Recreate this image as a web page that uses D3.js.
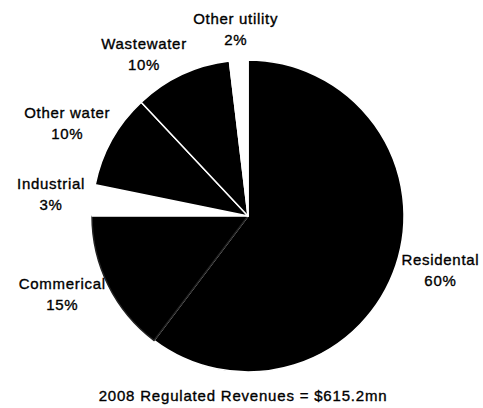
<!DOCTYPE html>
<html>
<head>
<meta charset="utf-8">
<script src="https://cdn.jsdelivr.net/npm/d3@7"></script>
<style>
  body { margin: 0; background: #fff; }
  text { font-family: "Liberation Sans", Arial, sans-serif; fill: #000; stroke: #000; stroke-width: 0.35px; }
</style>
</head>
<body>
<svg id="chart" width="483" height="408"></svg>
<script>
// shares; labels show them rounded
var categories = ["Residental", "Commerical", "Industrial", "Other water", "Wastewater", "Other utility"];
var shares = [60.3, 14.7, 3.2, 9.8, 10.1, 1.9];
var caption = "2008 Regulated Revenues = $615.2mn";

var svg = d3.select("#chart"),
    width = +svg.attr("width"),
    height = +svg.attr("height"),
    radius = 156,
    cx = 248,
    cy = 216;

var color = d3.scaleOrdinal()
    .domain(categories)
    .range(["#000", "#000", "#fff", "#000", "#000", "#fff"]);

var edge = d3.scaleOrdinal()
    .domain(categories)
    .range(["#fff", "#222", "#fff", "#fff", "#fff", "#fff"]);

var pie = d3.pie()
    .sort(null)
    .value(function(d) { return d.value; });

var arc = d3.arc()
    .innerRadius(0)
    .outerRadius(radius);

var data = categories.map(function(c, i) { return {name: c, value: shares[i]}; });
var arcs = pie(data);

var g = svg.append("g")
    .attr("transform", "translate(" + cx + "," + cy + ")");

// slices
g.selectAll(".slice")
    .data(arcs)
  .enter().append("path")
    .attr("class", "slice")
    .attr("d", arc)
    .attr("fill", function(d) { return color(d.data.name); })
    .attr("stroke", function(d) { return edge(d.data.name); })
    .attr("stroke-width", 1.5)
    .attr("stroke-linejoin", "round");

// labels
var labels = g.selectAll(".label")
    .data(arcs)
  .enter().append("text")
    .attr("class", "label")
    .attr("text-anchor", "middle")
    .style("font-size", "15px")
    .style("letter-spacing", "0.7px");

labels.append("tspan")
    .attr("x", 0)
    .attr("dy", 0)
    .text(function(d) { return d.data.name; });

labels.append("tspan")
    .attr("x", 0)
    .attr("dy", 21)
    .text(function(d) { return Math.round(d.data.value) + "%"; });

// put each label box just outside the rim; walk it back round if it hits a placed one
var placed = [],
    pad = 6;

function boxAt(a, box) {
  var s = Math.sin(a), c = -Math.cos(a),
      x = (radius + 8) * s + s * box.width / 2,
      y = (radius + 8) * c + c * box.height / 2 - 4;
  return {x: x, y: y, w: box.width, h: box.height};
}

function hits(b) {
  return placed.some(function(p) {
    return Math.abs(b.x - p.x) < (b.w + p.w) / 2 + pad &&
           Math.abs(b.y - p.y) < (b.h + p.h) / 2;
  });
}

var nodes = labels.nodes().slice().reverse();
nodes.forEach(function(node) {
  var d = d3.select(node).datum(),
      box = node.getBBox(),
      a = (d.startAngle + d.endAngle) / 2,
      b = boxAt(a, box);
  while (hits(b) && a > d.startAngle - 0.5) {
    a -= 0.01;
    b = boxAt(a, box);
  }
  placed.push(b);
  var ox = box.x + box.width / 2,
      oy = box.y + box.height / 2;
  d3.select(node).attr("transform", "translate(" + (b.x - ox) + "," + (b.y - oy) + ")");
});

svg.append("text")
    .attr("x", 243)
    .attr("y", 401)
    .attr("text-anchor", "middle")
    .style("font-size", "15px")
    .style("letter-spacing", "0.8px")
    .text(caption);
</script>
</body>
</html>
